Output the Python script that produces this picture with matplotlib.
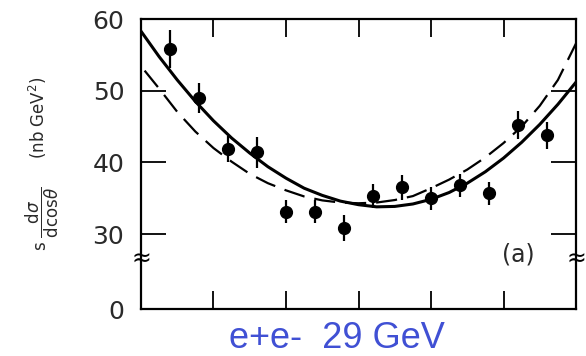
import matplotlib
matplotlib.use("Agg")
import matplotlib.pyplot as plt
import numpy as np

# measured points: cos(theta) bins and s*dsigma/dcos(theta) in nb GeV^2
cos_theta = [-0.52, -0.44, -0.36, -0.28, -0.20, -0.12, -0.04,
             0.04, 0.12, 0.20, 0.28, 0.36, 0.44, 0.52]
xsec = [55.8, 49.0, 41.9, 41.4, 33.1, 33.1, 30.8,
        35.3, 36.5, 35.0, 36.8, 35.7, 45.2, 43.8]
xsec_err = [2.6, 2.1, 1.8, 2.2, 1.6, 1.6, 1.8,
            1.7, 1.7, 1.6, 1.6, 1.6, 1.9, 1.9]

# curves
curve_x = [-0.60, -0.55, -0.50, -0.45, -0.40, -0.35, -0.30, -0.25, -0.20,
           -0.15, -0.10, -0.05, 0.00, 0.05, 0.10, 0.15, 0.20, 0.25, 0.30,
           0.35, 0.40, 0.45, 0.50, 0.55, 0.60]
solid_y = [58.3, 54.75, 51.5, 48.5, 45.8, 43.4, 41.3, 39.4, 37.8,
           36.4, 35.4, 34.6, 34.1, 33.8, 33.86, 34.2, 34.85, 35.8, 37.1,
           38.7, 40.6, 42.8, 45.3, 48.1, 51.2]
dash_x = [-0.59, -0.55, -0.50, -0.45, -0.40, -0.35, -0.30, -0.25, -0.20,
          -0.15, -0.10, -0.05, 0.00, 0.05, 0.10, 0.15, 0.20, 0.25, 0.30,
          0.35, 0.40, 0.45, 0.50, 0.55, 0.60]
dash_y = [52.8, 50.3, 47.05, 44.3, 42.0, 40.1, 38.4, 37.1, 36.1,
          35.25, 34.7, 34.4, 34.3, 34.4, 34.75, 35.3, 36.4, 37.6, 39.0,
          40.7, 42.7, 45.0, 47.9, 51.5, 56.6]

x_ticks = [-0.4, -0.2, 0.0, 0.2, 0.4]
y_ticks = [30, 40, 50, 60]
y_zero = 19.55  # where the "0" of the broken axis sits

fig = plt.figure(figsize=(5.86, 3.56), dpi=100)
ax = fig.add_axes([0.2406, 0.132, 0.983 - 0.2406, 0.9466 - 0.132])

ax.plot(curve_x, solid_y, color="black", lw=2.2, solid_capstyle="round")
ax.plot(dash_x, dash_y, color="black", lw=1.6, dashes=(9.5, 4.5))
ax.errorbar(cos_theta, xsec, yerr=xsec_err, fmt="o", color="black",
            ms=8.5, elinewidth=1.6, capsize=0)

ax.set_xlim(-0.6, 0.6)
ax.set_ylim(y_zero, 60)
ax.set_xticks(x_ticks)
ax.set_xticklabels([])
ax.set_yticks([y_zero] + y_ticks)
ax.set_yticklabels(["0"] + [str(v) for v in y_ticks],
                   fontsize=18, color="#2a2a2a")
ax.tick_params(axis="both", direction="in", top=True, right=True,
               length=13, width=1.3)
ax.tick_params(axis="y", length=18, pad=12)
for s in ax.spines.values():
    s.set_linewidth(1.6)

# axis break marks
for xpos in (0.0, 1.0):
    ax.text(xpos, 26.6, "≈", transform=ax.get_yaxis_transform(),
            ha="center", va="center", fontsize=17, color="black")

ax.text(0.44, 27.1, "(a)", fontsize=17, ha="center", va="center",
        color="#2a2a2a")

fig.text(0.064, 0.668, r"(nb GeV$^2$)", rotation=90, fontsize=12,
         ha="center", va="center", color="#2a2a2a")
fig.text(0.072, 0.385, r"s $\dfrac{\mathrm{d}\sigma}{\mathrm{dcos}\theta}$",
         rotation=90, fontsize=12, ha="center", va="center", color="#2a2a2a")

fig.text(0.575, 0.05, "e+e-  29 GeV", fontsize=26, color="#4050d4",
         family="Liberation Sans", ha="center", va="center")

fig.savefig("out.png", dpi=100)
